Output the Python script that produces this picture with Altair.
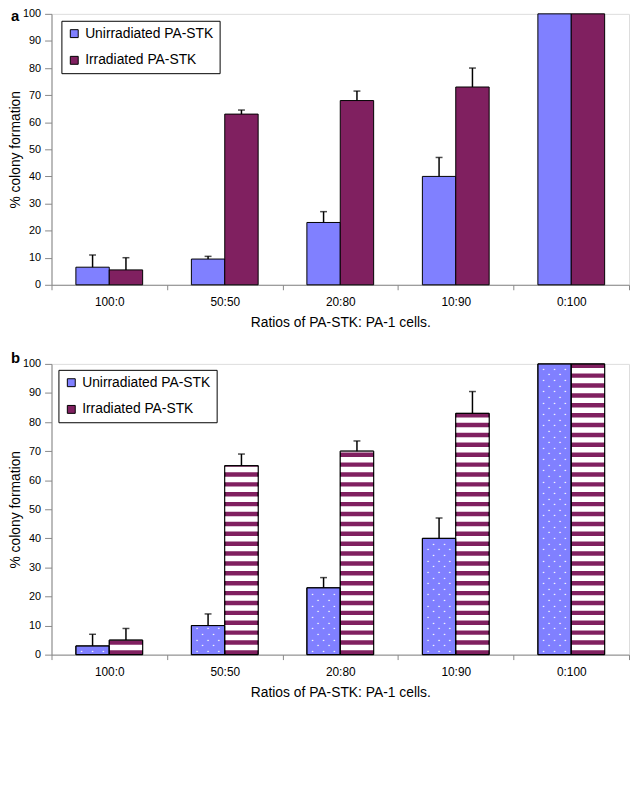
import altair as alt
import pandas as pd

ratios = ["100:0", "50:50", "20:80", "10:90", "0:100"]
series_names = ["Unirradiated PA-STK", "Irradiated PA-STK"]

# panel a
a_unirr = [6.5, 9.5, 23, 40, 100]
a_unirr_err = [11, 10.5, 27, 47, None]
a_irr = [5.5, 63, 68, 73, 100]
a_irr_err = [10, 64.5, 71.5, 80, None]

# panel b
b_unirr = [3, 10, 23, 40, 100]
b_unirr_err = [7, 14, 26.5, 47, None]
b_irr = [5, 65, 70, 83, 100]
b_irr_err = [9, 69, 73.5, 90.5, None]

BLUE = "#8080ff"
PURPLE = "#802060"
FONT = "Liberation Sans"
W = 584


def make_df(unirr, unirr_err, irr, irr_err):
    rows = []
    for i, r in enumerate(ratios):
        rows.append(dict(ratio=r, series=series_names[0], value=unirr[i], err=unirr_err[i]))
        rows.append(dict(ratio=r, series=series_names[1], value=irr[i], err=irr_err[i]))
    return pd.DataFrame(rows)


def enc_x():
    return alt.X(
        "ratio:N", sort=ratios,
        scale=alt.Scale(paddingInner=0, paddingOuter=0),
        axis=alt.Axis(title="Ratios of PA-STK: PA-1 cells.", labelAngle=0, tickBand="extent",
                      labelFontSize=12, titleFontSize=14, labelPadding=7, titlePadding=8,
                      tickSize=5, titleFontWeight="normal", labelFont=FONT, titleFont=FONT),
    )


def enc_xoff():
    return alt.XOffset("series:N", sort=series_names,
                       scale=alt.Scale(domain=series_names, paddingOuter=0.73, paddingInner=0))


def enc_y(field="value:Q"):
    return alt.Y(
        field, scale=alt.Scale(domain=[0, 100], nice=False, zero=True),
        axis=alt.Axis(title="% colony formation", values=list(range(0, 101, 10)), grid=False,
                      labelFontSize=11, titleFontSize=14, tickSize=7, labelPadding=4,
                      titlePadding=0, titleFontWeight="normal", labelFont=FONT, titleFont=FONT),
    )


def legend(lx, ly):
    return alt.Legend(
        title=None, orient="none", legendX=lx, legendY=ly, direction="vertical",
        symbolType="square", symbolSize=64, symbolStrokeColor="black", symbolStrokeWidth=1,
        labelFontSize=14, labelFont=FONT, labelColor="black", padding=6, rowPadding=13,
        labelOffset=4, strokeColor="black", fillColor="white", cornerRadius=0,
    )


def error_layers(base):
    rule = base.mark_rule(color="black", strokeWidth=1.5).encode(
        x=enc_x(), xOffset=enc_xoff(), y=enc_y(), y2="err:Q"
    ).transform_filter("isValid(datum.err)")
    cap = base.mark_tick(color="black", thickness=1.5, size=7, orient="horizontal").encode(
        x=enc_x(), xOffset=enc_xoff(), y=enc_y("err:Q")
    ).transform_filter("isValid(datum.err)")
    return [rule, cap]


def panel_label(letter, yv):
    return alt.Chart(pd.DataFrame({"t": [letter]})).mark_text(
        fontSize=15, fontWeight="bold", font=FONT, align="left", baseline="middle", color="black"
    ).encode(text="t:N", x=alt.value(-41), y=alt.value(yv))


# ---------- panel a ----------
df_a = make_df(a_unirr, a_unirr_err, a_irr, a_irr_err)
base_a = alt.Chart(df_a)
bars_a = base_a.mark_bar(stroke="black", strokeWidth=1).encode(
    x=enc_x(), xOffset=enc_xoff(), y=enc_y(),
    color=alt.Color("series:N", sort=series_names,
                    scale=alt.Scale(domain=series_names, range=[BLUE, PURPLE]),
                    legend=legend(10, 7)),
)
panel_a = alt.layer(bars_a, *error_layers(base_a), panel_label("a", 2)).properties(
    width=W, height=274
)

# ---------- panel b ----------
df_b = make_df(b_unirr, b_unirr_err, b_irr, b_irr_err)
base_b = alt.Chart(df_b)
bars_b = base_b.mark_bar(stroke="black", strokeWidth=1).encode(
    x=enc_x(), xOffset=enc_xoff(), y=enc_y(),
    color=alt.Color("series:N", sort=series_names,
                    scale=alt.Scale(domain=series_names, range=[BLUE, PURPLE]),
                    legend=legend(7, 6)),
)

# white stripes over the irradiated bars (hatch pattern)
PITCH = 3.4
WHITE_W = 1.87
stripe_rows = []
for r, v in zip(ratios, b_irr):
    k = 0
    while True:
        y0 = 1.53 + k * PITCH
        if y0 >= v:
            break
        stripe_rows.append(dict(ratio=r, series=series_names[1], s0=y0, s1=min(y0 + WHITE_W, v)))
        k += 1
df_stripes = pd.DataFrame(stripe_rows)
stripes = alt.Chart(df_stripes).mark_bar(color="white", strokeWidth=0).encode(
    x=enc_x(), xOffset=enc_xoff(), y=enc_y("s0:Q"), y2="s1:Q"
)

# dotted texture over the unirradiated bars
ROW = 1.94
dot_rows = []
for r, v in zip(ratios, b_unirr):
    k = 0
    while True:
        yy = 1.3 + k * ROW
        if yy >= v - 0.8:
            break
        dot_rows.append(dict(ratio=r, series=series_names[0], dy=yy, parity=k % 2))
        k += 1
df_dots = pd.DataFrame(dot_rows)
dot_layers = []
for parity, offs in [(0, [-11, 0, 11]), (1, [-5.5, 5.5])]:
    for d in offs:
        dot_layers.append(
            alt.Chart(df_dots).transform_filter(f"datum.parity == {parity}").mark_text(
                text="\u25aa", fontSize=5, color="#ffffff", dx=d, align="center", baseline="middle"
            ).encode(x=enc_x(), xOffset=enc_xoff(), y=enc_y("dy:Q"))
        )

outline_b = base_b.mark_bar(fillOpacity=0, stroke="black", strokeWidth=1).encode(
    x=enc_x(), xOffset=enc_xoff(), y=enc_y()
)

panel_b = alt.layer(bars_b, stripes, *dot_layers, outline_b, *error_layers(base_b),
                    panel_label("b", -6)).properties(width=W, height=294)

chart = alt.vconcat(panel_a, panel_b, spacing=20).resolve_scale(
    color="independent"
).resolve_legend(color="independent").properties(
    padding={"left": 0, "top": -5, "right": 0, "bottom": 0}
).configure_view(
    stroke="#808080", strokeWidth=1
).configure_axis(
    domainColor="black", tickColor="black", labelColor="black", titleColor="black",
    labelFont=FONT, titleFont=FONT, titleFontWeight="normal", domainWidth=1, tickWidth=1,
).configure(background="white")

chart.save("out.html", embed_options={"renderer": "svg", "actions": False})
